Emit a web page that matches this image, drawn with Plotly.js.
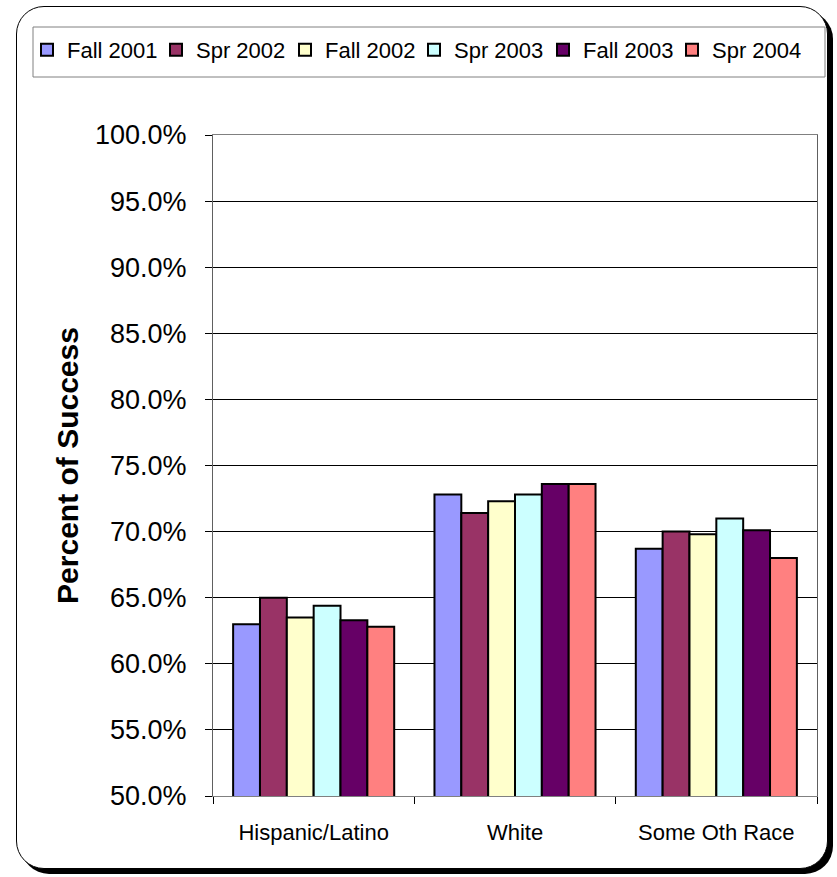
<!DOCTYPE html>
<html>
<head>
<meta charset="utf-8">
<script src="https://cdn.plot.ly/plotly-3.0.1.min.js"></script>
<style>
  html, body { margin: 0; padding: 0; background: #fff; }
  #wrap { position: relative; width: 837px; height: 877px; }
  /* rounded chart card with a hard drop shadow */
  #card {
    position: absolute; left: 16px; top: 6px;
    width: 810px; height: 861px;
    border: 1.5px solid #000; border-radius: 28px;
    box-shadow: 5px 5px 0 #000; background: #fff;
  }
  #chart { position: absolute; left: 0; top: 0; width: 837px; height: 877px; }
</style>
</head>
<body>
<div id="wrap">
  <div id="card"></div>
  <div id="chart"></div>
</div>
<script>
// Success rate (%) by group and term
const categories = ['Hispanic/Latino', 'White', 'Some Oth Race'];
const terms = ['Fall 2001', 'Spr 2002', 'Fall 2002', 'Spr 2003', 'Fall 2003', 'Spr 2004'];

const fall2001 = [63.0, 72.8, 68.7];
const spr2002  = [65.0, 71.4, 70.0];
const fall2002 = [63.5, 72.3, 69.8];
const spr2003  = [64.4, 72.8, 71.0];
const fall2003 = [63.3, 73.6, 70.1];
const spr2004  = [62.8, 73.6, 68.0];

const seriesValues = [fall2001, spr2002, fall2002, spr2003, fall2003, spr2004];
const termColors = ['#9999FF', '#993366', '#FFFFCC', '#CCFFFF', '#660066', '#FF8080'];

const FONT = 'Liberation Sans, Arial, Helvetica, sans-serif';

const traces = terms.map((name, i) => ({
  type: 'bar',
  name: name,
  x: categories,
  y: seriesValues[i],
  marker: { color: termColors[i], line: { color: '#000', width: 2 } },
  hoverinfo: 'x+y+name'
}));

// plot area in px: x 213..817, y 135..796
const L = 213, R = 817, T = 135, B = 796;
const W = R - L, H = B - T;
const px = v => (v - L) / W;
const py = v => 1 + (T - v) / H;

const layout = {
  width: 837,
  height: 877,
  margin: { l: L, r: 837 - R, t: T, b: 877 - B, pad: 0 },
  paper_bgcolor: 'rgba(0,0,0,0)',
  plot_bgcolor: '#fff',
  font: { family: FONT, color: '#000' },
  barmode: 'group',
  bargap: 0.2,
  bargroupgap: 0,
  showlegend: true,
  legend: {
    orientation: 'h',
    x: px(27), xanchor: 'left',
    y: py(50), yanchor: 'middle',
    bgcolor: 'rgba(0,0,0,0)',
    borderwidth: 0,
    font: { family: FONT, size: 22, color: '#000' },
    entrywidth: 84,
    traceorder: 'normal'
  },
  shapes: [{
    type: 'rect', xref: 'paper', yref: 'paper',
    x0: px(33), x1: px(825), y0: py(77), y1: py(27),
    line: { color: '#808080', width: 1 },
    fillcolor: 'rgba(0,0,0,0)', layer: 'below'
  }],
  xaxis: {
    type: 'category',
    showline: true, linecolor: '#808080', linewidth: 1, mirror: true,
    ticks: 'outside', tickson: 'boundaries', ticklen: 7, tickcolor: '#000', tickwidth: 1,
    ticklabelstandoff: 17,
    tickfont: { family: FONT, size: 22, color: '#000' },
    showgrid: false,
    fixedrange: true
  },
  yaxis: {
    range: [50, 100],
    tick0: 50, dtick: 5,
    tickformat: '.1f', ticksuffix: '%',
    showgrid: true, gridcolor: '#000', gridwidth: 1,
    showline: true, linecolor: '#606060', linewidth: 1, mirror: true,
    ticks: 'outside', ticklen: 7, tickcolor: '#000', tickwidth: 1,
    ticklabelstandoff: 13,
    tickfont: { family: FONT, size: 27, color: '#000' },
    zeroline: false,
    title: {
      text: 'Percent of Success',
      font: { family: FONT, size: 30, weight: 'bold', color: '#000' },
      standoff: 7
    },
    fixedrange: true
  }
};

Plotly.newPlot('chart', traces, layout, { displayModeBar: false, staticPlot: true });
</script>
</body>
</html>
